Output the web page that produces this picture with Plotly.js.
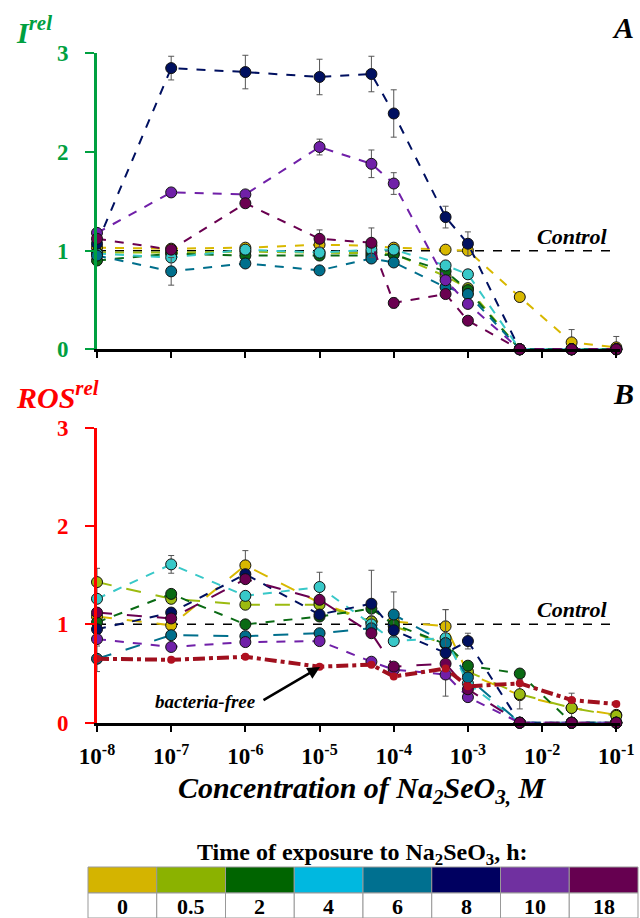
<!DOCTYPE html>
<html><head><meta charset="utf-8">
<script src="https://cdn.plot.ly/plotly-3.0.1.min.js"></script>
<style>html,body{margin:0;padding:0;background:#fff}#c{width:640px;height:918px}</style>
</head><body><div id="c"></div>
<script>
// ---- data ----
const conc = [1e-8,1e-7,1e-6,1e-5,5e-5,1e-4,5e-4,1e-3,5e-3,2.5e-2,1e-1];
const tickVals = [1e-8,1e-7,1e-6,1e-5,1e-4,1e-3,1e-2,1e-1];
const tickText = ['10<sup>-8</sup>','10<sup>-7</sup>','10<sup>-6</sup>','10<sup>-5</sup>','10<sup>-4</sup>','10<sup>-3</sup>','10<sup>-2</sup>','10<sup>-1</sup>'];
const hours = ['0','0.5','2','4','6','8','10','18'];
const legendColors = ['#D4B400','#8BB200','#006400','#00B8E0','#007090','#000060','#7030A0','#660050'];
const markerColors = ['#D8B800','#9CBB10','#0A6A14','#38C8C8','#006F8C','#001060','#7020A8','#6A0050'];

// Panel A: I rel
const A_0  = [1.03,1.02,1.03,1.06,1.05,1.03,1.01,1.00,0.53,0.07,0.02];
const A_05 = [0.98,0.98,0.99,0.98,0.98,0.97,0.74,0.62,0,0,0];
const A_2  = [0.90,0.97,0.95,0.95,0.95,0.96,0.79,0.60,0,0,0];
const A_4  = [0.97,0.93,1.01,0.98,1.01,1.01,0.85,0.76,0,0,0];
const A_6  = [0.95,0.79,0.87,0.80,0.92,0.88,0.63,0.56,0,0,0];
const A_8  = [1.07,2.85,2.81,2.76,2.79,2.39,1.34,1.07,0,0,0];
const A_10 = [1.18,1.59,1.57,2.05,1.88,1.68,0.70,0.46,0,0,0];
const A_18 = [1.12,1.01,1.48,1.12,1.08,0.47,0.56,0.29,0,0,0];
const A_err0  = [0,0,0,0,0,0,0,0,0,0.13,0.11];
const A_err6  = [0,0.14,0,0,0,0,0,0,0,0,0];
const A_err8  = [0.05,0.12,0.17,0.18,0.18,0.24,0.11,0.12,0,0,0];
const A_err10 = [0,0,0,0.08,0.14,0.11,0,0,0,0,0];
const A_err18 = [0,0,0,0.09,0.15,0.05,0,0,0,0,0];

// Panel B: ROS rel
const B_0  = [1.08,0.99,1.60,1.22,1.03,1.03,0.98,0.50,0.28,0.15,0.08];
const B_05 = [1.43,1.26,1.20,1.20,1.03,0.98,0.80,0.52,0.29,0.15,0.07];
const B_2  = [1.02,1.31,1.00,1.08,1.16,1.00,0.80,0.58,0.50,0,0];
const B_4  = [1.26,1.61,1.29,1.38,1.00,0.83,0.86,0.40,0,0,0];
const B_6  = [0.65,0.89,0.88,0.91,0.96,1.10,0.81,0.46,0,0,0];
const B_8  = [0.95,1.12,1.51,1.10,1.21,0.94,0.71,0.83,0,0,0];
const B_10 = [0.85,0.77,0.82,0.83,0.62,0.54,0.49,0.26,0,0,0];
const B_18 = [1.12,1.06,1.46,1.25,0.91,0.57,0.60,0.34,0,0,0];
const B_free = [0.65,0.64,0.67,0.57,0.59,0.47,0.55,0.37,0.40,0.23,0.19];
const B_err0  = [0,0,0.15,0,0,0,0.17,0,0,0,0];
const B_err05 = [0.14,0,0,0,0,0,0,0,0.15,0.15,0];
const B_err4  = [0,0.09,0,0.15,0,0,0,0,0,0,0];
const B_err6  = [0.13,0,0,0,0,0.23,0,0,0,0,0];
const B_err8  = [0,0,0,0,0.34,0,0.44,0.08,0,0,0];
const controlX = [1e-8, 1e-1];
const controlY = [1, 1];

// ---- helpers ----
const W=640,H=918,L=97,R=20;
const px2x = p => (p-L)/(W-L-R);
const px2y = p => 1 - p/H;
const SERIF = 'Liberation Serif';

const dashA = ['dash','dash','dash','dash','dash','dash','dash','dash'];
const dashB = ['longdash','longdash','dash','dash','longdash','dash','dash','longdash'];
const A_sets = [A_0,A_05,A_2,A_4,A_6,A_8,A_10,A_18];
const A_errs = [A_err0,null,null,null,A_err6,A_err8,A_err10,A_err18];
const B_sets = [B_0,B_05,B_2,B_4,B_6,B_8,B_10,B_18];
const B_errs = [B_err0,B_err05,null,B_err4,B_err6,B_err8,null,null];

function series(ys, errs, i, xa, ya, dash){
  const t = {x:conc, y:ys, xaxis:xa, yaxis:ya, type:'scatter', mode:'lines+markers',
    cliponaxis:false, showlegend:false,
    line:{color:markerColors[i], width:2, dash:dash},
    marker:{size:11, color:markerColors[i], line:{color:'#111', width:1}}};
  if (errs) t.error_y = {type:'data', array:errs, visible:true, color:'#555', thickness:1, width:3};
  return t;
}
const traces = [];
traces.push({x:controlX,y:controlY,xaxis:'x',yaxis:'y',mode:'lines',showlegend:false,line:{color:'#000',width:1.5,dash:'dash'}});
A_sets.forEach((s,i)=>traces.push(series(s,A_errs[i],i,'x','y',dashA[i])));
traces.push({x:controlX,y:controlY,xaxis:'x2',yaxis:'y2',mode:'lines',showlegend:false,line:{color:'#000',width:1.5,dash:'dash'}});
B_sets.forEach((s,i)=>traces.push(series(s,B_errs[i],i,'x2','y2',dashB[i])));
traces.push({x:conc,y:B_free,xaxis:'x2',yaxis:'y2',type:'scatter',mode:'lines+markers',cliponaxis:false,showlegend:false,
  line:{color:'#A0101E',width:4,dash:'dashdot'}, marker:{size:8,color:'#B01020'}});

const xbase = {type:'log', range:[-8,-0.95], showgrid:false, zeroline:false, showline:true,
  linecolor:'#000', linewidth:3, ticks:'outside', ticklen:6, tickwidth:2, tickcolor:'#000',
  tickvals:tickVals, ticktext:tickText, domain:[0,1], automargin:false};
const ybase = (col,dom)=>({range:[0,3], domain:dom, showgrid:false, zeroline:false, showline:true,
  linecolor:col, linewidth:3, ticks:'outside', ticklen:9, tickwidth:2, tickcolor:col,
  tickvals:[0,1,2,3], ticktext:['<b>0</b>','<b>1</b>','<b>2</b>','<b>3</b>'], ticklabelstandoff:12,
  tickfont:{family:SERIF,size:23,color:col}, automargin:false});

const annotations = [
  {text:'<b><i>I<sup>rel</sup></i></b>', x:px2x(14), y:px2y(30), xref:'paper', yref:'paper', xanchor:'left', yanchor:'middle', showarrow:false, font:{family:SERIF,size:30,color:'#00A040'}},
  {text:'<b><i>ROS<sup>rel</sup></i></b>', x:px2x(14), y:px2y(395), xref:'paper', yref:'paper', xanchor:'left', yanchor:'middle', showarrow:false, font:{family:SERIF,size:30,color:'#FF0000'}},
  {text:'<b><i>A</i></b>', x:px2x(636), y:px2y(28), xref:'paper', yref:'paper', xanchor:'right', yanchor:'middle', showarrow:false, font:{family:SERIF,size:30,color:'#000'}},
  {text:'<b><i>B</i></b>', x:px2x(636), y:px2y(393), xref:'paper', yref:'paper', xanchor:'right', yanchor:'middle', showarrow:false, font:{family:SERIF,size:30,color:'#000'}},
  {text:'<b><i>Control</i></b>', x:px2x(610), y:px2y(237), xref:'paper', yref:'paper', xanchor:'right', yanchor:'middle', showarrow:false, font:{family:SERIF,size:22,color:'#000'}},
  {text:'<b><i>Control</i></b>', x:px2x(610), y:px2y(609), xref:'paper', yref:'paper', xanchor:'right', yanchor:'middle', showarrow:false, font:{family:SERIF,size:22,color:'#000'}},
  {text:'<b><i>bacteria-free</i></b>', x:px2x(258), y:px2y(701), xref:'paper', yref:'paper', xanchor:'right', yanchor:'middle', showarrow:false, font:{family:SERIF,size:19,color:'#000'}},
  {text:'', x:px2x(320), y:px2y(667), xref:'paper', yref:'paper', ax:-58, ay:34, axref:'pixel', ayref:'pixel',
    showarrow:true, arrowhead:2, arrowsize:1, arrowwidth:2.5, arrowcolor:'#000', standoff:0},
  {text:'<b><i>Concentration of Na<sub>2</sub>SeO<sub>3,</sub> M</i></b>', x:px2x(362), y:px2y(790), xref:'paper', yref:'paper', xanchor:'center', yanchor:'middle', showarrow:false, font:{family:SERIF,size:30,color:'#000'}},
  {text:'<b>Time of exposure to Na<sub>2</sub>SeO<sub>3</sub>, h:</b>', x:px2x(362), y:px2y(854), xref:'paper', yref:'paper', xanchor:'center', yanchor:'middle', showarrow:false, font:{family:SERIF,size:24,color:'#000'}}
];
const shapes = [];
const tl=88, tr=638, colW=(tr-tl)/hours.length, t1=867, t2=893, t3=918;
hours.forEach((h,i)=>{
  const x0=tl+i*colW, x1=x0+colW;
  shapes.push({type:'rect', xref:'paper', yref:'paper', x0:px2x(x0), x1:px2x(x1), y0:px2y(t2), y1:px2y(t1), fillcolor:legendColors[i], line:{color:'#999',width:1}});
  shapes.push({type:'rect', xref:'paper', yref:'paper', x0:px2x(x0), x1:px2x(x1), y0:px2y(t3), y1:px2y(t2), fillcolor:'#fff', line:{color:'#999',width:1}});
  annotations.push({text:'<b>'+h+'</b>', x:px2x((x0+x1)/2), y:px2y((t2+t3)/2+1), xref:'paper', yref:'paper', xanchor:'center', yanchor:'middle', showarrow:false, font:{family:SERIF,size:22,color:'#000'}});
});

const layout = {
  width:W, height:H, margin:{l:L, r:R, t:0, b:0}, paper_bgcolor:'#fff', plot_bgcolor:'rgba(0,0,0,0)',
  showlegend:false,
  xaxis: Object.assign({}, xbase, {anchor:'y', showticklabels:false}),
  yaxis: ybase('#00A040', [px2y(349.3), px2y(53.3)]),
  xaxis2: Object.assign({}, xbase, {anchor:'y2', showticklabels:true, ticklabelstandoff:5,
    ticktext:tickText.map(t=>'<b>'+t+'</b>'), tickfont:{family:SERIF,size:23,color:'#000'}}),
  yaxis2: Object.assign(ybase('#FF0000', [px2y(722.7), px2y(427.7)]), {anchor:'x2'}),
  annotations, shapes
};
layout.yaxis.anchor='x';
Plotly.newPlot('c', traces, layout, {staticPlot:true});
</script></body></html>
